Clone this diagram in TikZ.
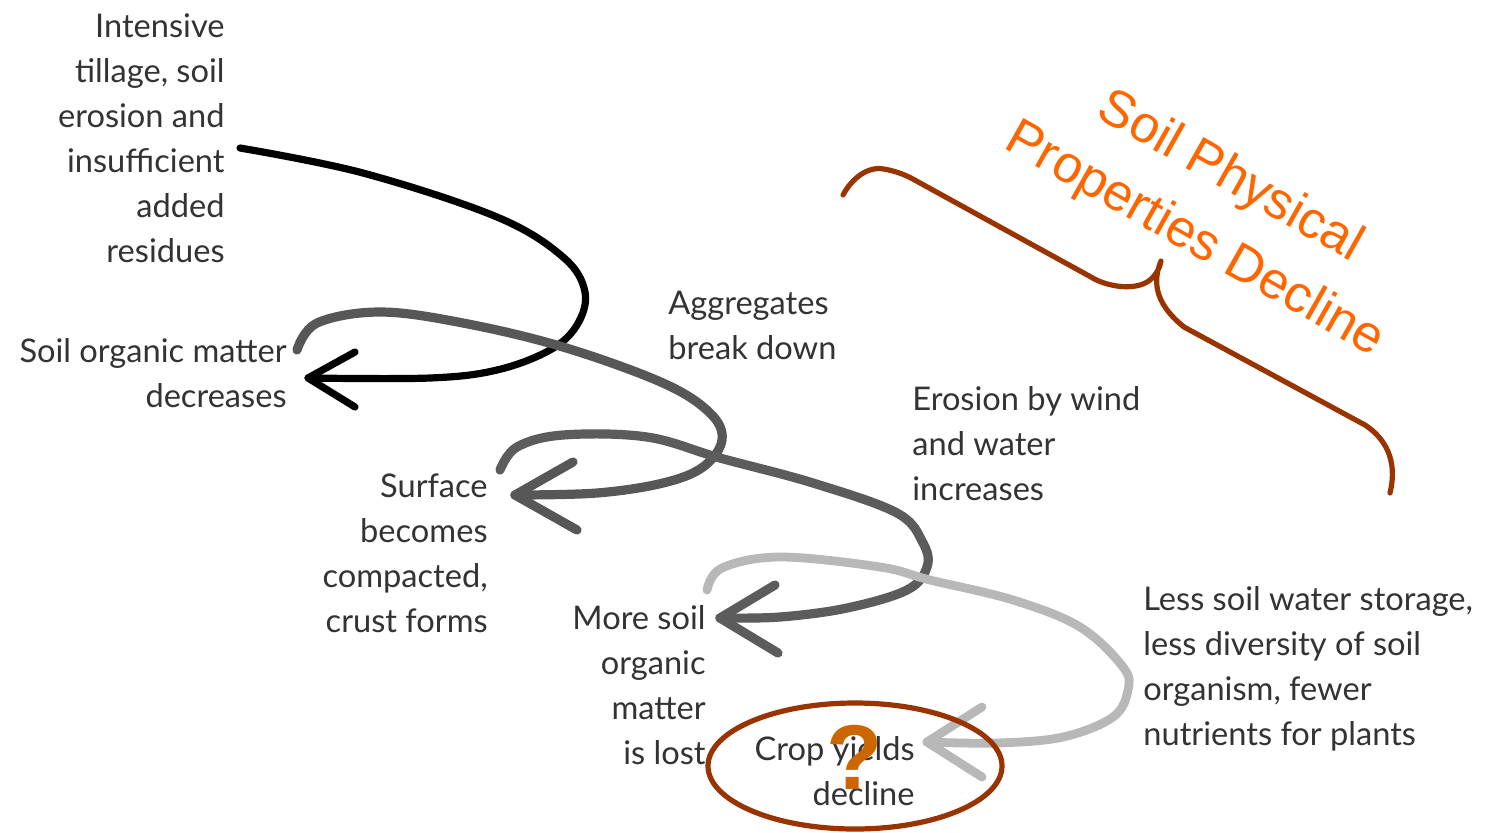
\documentclass[tikz,border=0pt]{standalone}
\usepackage{fontspec}
\setmainfont{Lato}
\newfontfamily\titlefont{Liberation Sans}
\definecolor{inktext}{HTML}{333333}
\definecolor{brace}{HTML}{993300}
\definecolor{titleorange}{HTML}{FF6600}
\definecolor{qmark}{HTML}{CC6600}
\begin{document}
\begin{tikzpicture}[x=0.5pt,y=-0.5pt,
  lbl/.style={inner sep=0pt, text=inktext, font=\fontsize{16.3pt}{22.5pt}\selectfont},
  lblr/.style={lbl, align=right, anchor=north east},
  lbll/.style={lbl, align=left, anchor=north west},
  swirl/.style={line width=#1, line cap=round, line join=round},
  ]
\useasboundingbox[fill=white] (0,0) rectangle (1490,832);

% text blocks
\node[lblr] (till) at (225,13) {Intensive\\tillage, soil\\erosion and\\insufficient\\added\\residues};
\node[lblr] (som) at (287,338) {Soil organic matter\\decreases};
\node[lbll] (agg) at (668,291) {Aggregates\\break down};
\node[lblr] (surf) at (488,473) {Surface\\becomes\\compacted,\\crust forms};
\node[lbll] (eros) at (912,386) {Erosion by wind\\and water\\increases};
\node[lblr] (lost) at (706,605) {More soil\\organic\\matter\\is lost};
\node[lbll] (less) at (1143,586) {Less soil water storage,\\less diversity of soil\\organism, fewer\\nutrients for plants};
\node[lblr] (crop) at (915,736) {Crop yields\\decline};

% arrow 1 (black)
\draw[swirl=3.6pt, black] plot[smooth, tension=0.6] coordinates {(240,148) (363,173) (497,217) (563,257) (585,292) (577,325) (550,350) (497,370) (430,378) (308,378)};
\draw[swirl=3.6pt, black] (355,352) -- (308,378) -- (355,407);

% arrow 2 (dark grey)
\draw[swirl=4.6pt, black!66] plot[smooth, tension=0.6] coordinates {(297,350) (317,323) (380,312) (463,323) (563,347) (663,383) (710,413) (722,440) (703,467) (663,483) (597,493) (515,495)};
\draw[swirl=4.6pt, black!66] (573,462) -- (515,495) -- (577,530);

% arrow 3 (grey)
\draw[swirl=4.6pt, black!64] plot[smooth, tension=0.6] coordinates {(500,470) (517,447) (563,435) (647,437) (720,458) (813,483) (897,513) (923,543) (927,567) (907,590) (847,608) (780,617) (720,618)};
\draw[swirl=4.6pt, black!64] (775,585) -- (720,618) -- (778,653);

% arrow 4 (light grey)
\draw[swirl=4.4pt, black!28] plot[smooth, tension=0.6] coordinates {(707,590) (722,568) (780,557) (880,567) (930,580) (1013,600) (1080,627) (1123,667) (1128,690) (1113,717) (1063,737) (997,743) (927,742)};
\draw[swirl=4.4pt, black!28] (982,707) -- (927,742) -- (982,777);

% brace and title
\draw[brace, line width=2.6pt, line cap=round, line join=round]
  (843,195) .. controls (852,178) and (868,166) .. (884,169)
  .. controls (895,171) and (903,174) .. (911,178)
  -- (1091,277) .. controls (1105,286) and (1135,292) .. (1150,280)
  .. controls (1156,275) and (1160,268) .. (1161,261)
  .. controls (1151,285) and (1158,306) .. (1184,327)
  -- (1365,425) .. controls (1385,438) and (1398,460) .. (1390,493);
\node[text=titleorange, rotate=-29.5, align=center, inner sep=0pt,
  font=\titlefont\fontsize{26pt}{36pt}\selectfont] (title) at (1212,209) {Soil Physical\\Properties Decline};

% highlight ring and question mark
\draw[brace, line width=2.6pt] (855,766) ellipse [x radius=147, y radius=63];
\node[inner sep=0pt, text=qmark, font=\titlefont\bfseries\fontsize{46pt}{46pt}\selectfont] (q) at (855,757) {?};
\end{tikzpicture}
\end{document}
